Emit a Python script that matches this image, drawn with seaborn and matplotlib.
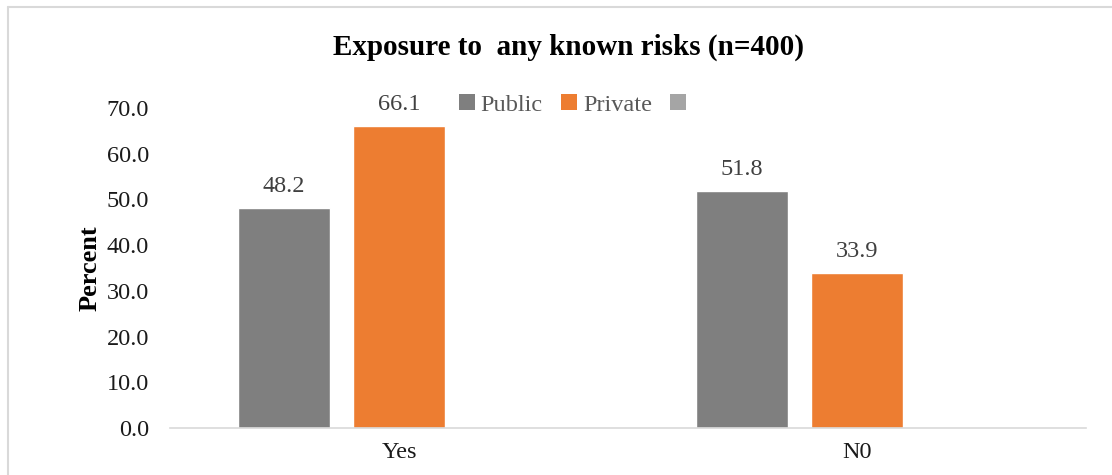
import numpy as np
import pandas as pd
import matplotlib
matplotlib.use("Agg")
import matplotlib.pyplot as plt
from matplotlib.lines import Line2D
from matplotlib.patches import Patch
import seaborn as sns

# Survey answers and the share (%) per facility type
categories = ["Yes", "N0"]
series = ["Public", "Private", ""]
public = [48.2, 51.8]
private = [66.1, 33.9]
blank = [np.nan, np.nan]
colors = ["#7F7F7F", "#ED7D31", "#A5A5A5"]

df = pd.DataFrame({
    "answer": categories * 3,
    "sector": [s for s in series for _ in categories],
    "percent": public + private + blank,
})

sns.set_theme(style="white")
plt.rcParams["font.family"] = ["Liberation Serif", "DejaVu Serif"]

fig = plt.figure(figsize=(11.12, 4.75), dpi=100)
ax = fig.add_axes([0.1529, 0.0989, 0.8237, 0.6737])

sns.barplot(data=df, x="answer", y="percent", hue="sector",
            hue_order=series, palette=colors, width=0.753, gap=0.2,
            saturation=1, ax=ax, legend=False)

ax.set_ylim(0, 70)
ticks = np.arange(0, 71, 10)
ax.set_yticks(ticks)
ax.set_yticklabels([f"{v:.1f}" for v in ticks], fontsize=17.5, color="#1a1a1a")
ax.set_xticks(range(len(categories)))
ax.set_xticklabels(categories, fontsize=17.5, color="#1a1a1a")
ax.tick_params(axis="x", length=0, pad=10)
ax.tick_params(axis="y", length=0, pad=15)
ax.set_xlabel("")
ax.set_ylabel("Percent", fontsize=19, fontweight="bold", color="black", labelpad=4)

for side in ["top", "right", "left"]:
    ax.spines[side].set_visible(False)
ax.spines["bottom"].set_color("#D9D9D9")
ax.spines["bottom"].set_linewidth(1.2)
ax.grid(False)

for cont in ax.containers:
    labels = ["" if np.isnan(v) else f"{v:.1f}" for v in cont.datavalues]
    ax.bar_label(cont, labels=labels, padding=8, fontsize=17.5,
                 color="#404040", clip_on=False)

handles = [Patch(facecolor=c, edgecolor="none") for c in colors]
ax.legend(handles, series, ncol=3, frameon=False, fontsize=17.5,
          labelcolor="#595959", handlelength=0.65, handleheight=0.65,
          handletextpad=0.25, columnspacing=0.75,
          loc="center", bbox_to_anchor=(0.5175, 1 - 105 / 475),
          bbox_transform=fig.transFigure)

fig.text(0.511, 1 - 47 / 475, "Exposure to  any known risks (n=400)",
         ha="center", va="center", fontsize=21, fontweight="bold",
         color="black")

# Chart-area frame
fig.add_artist(Line2D([8 / 1112, 1.0], [1 - 7 / 475, 1 - 7 / 475],
                      transform=fig.transFigure, color="#D9D9D9", lw=1.5))
fig.add_artist(Line2D([8 / 1112, 8 / 1112], [0.0, 1 - 7 / 475],
                      transform=fig.transFigure, color="#D9D9D9", lw=1.5))

fig.savefig("out.png", dpi=100, facecolor="white")
